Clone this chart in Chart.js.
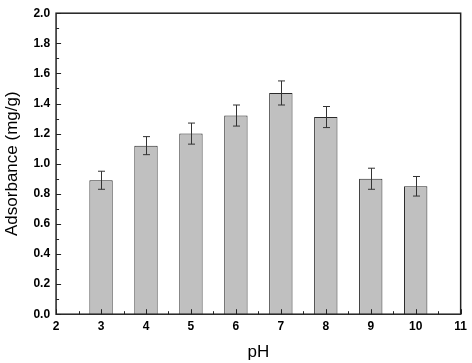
<!DOCTYPE html>
<html>
<head>
<meta charset="utf-8">
<script src="https://cdn.jsdelivr.net/npm/chart.js@4"></script>
<style>
  body { margin: 0; background: #fff; }
  #wrap { width: 472px; height: 363px; }
</style>
</head>
<body>
<div id="wrap"><canvas id="phChart" width="472" height="363"></canvas></div>
<script>
const phValues = [3, 4, 5, 6, 7, 8, 9, 10];
const adsorbance = [0.89, 1.12, 1.20, 1.32, 1.47, 1.31, 0.90, 0.85];
const errors = [0.06, 0.06, 0.07, 0.07, 0.08, 0.07, 0.07, 0.065];

// frame, inward ticks and error bars
const extrasPlugin = {
    id: 'extras',
    afterDatasetsDraw(chart) {
        const ctx = chart.ctx;
        const x = chart.scales.x, y = chart.scales.y;
        const a = chart.chartArea;
        ctx.save();
        ctx.strokeStyle = '#333';
        ctx.lineWidth = 1;
        // error bars
        phValues.forEach((p, i) => {
            const px = Math.round(x.getPixelForValue(p)) + 0.5;
            const top = y.getPixelForValue(adsorbance[i] + errors[i]);
            const bot = y.getPixelForValue(adsorbance[i] - errors[i]);
            ctx.beginPath();
            ctx.moveTo(px, top); ctx.lineTo(px, bot);
            ctx.moveTo(px - 3.5, top); ctx.lineTo(px + 3.5, top);
            ctx.moveTo(px - 3.5, bot); ctx.lineTo(px + 3.5, bot);
            ctx.stroke();
        });
        // inward ticks
        ctx.strokeStyle = '#222';
        for (let v = 2; v <= 11.001; v += 0.5) {
            const px = Math.round(x.getPixelForValue(v)) + 0.5;
            const len = Math.abs(v - Math.round(v)) < 0.01 ? 5 : 3;
            ctx.beginPath();
            ctx.moveTo(px, a.bottom); ctx.lineTo(px, a.bottom - len);
            ctx.stroke();
        }
        for (let k = 0; k <= 20; k++) {
            const py = Math.round(y.getPixelForValue(k / 10)) + 0.5;
            const len = k % 2 === 0 ? 5 : 3;
            ctx.beginPath();
            ctx.moveTo(a.left, py); ctx.lineTo(a.left + len, py);
            ctx.stroke();
        }
        // frame
        ctx.lineWidth = 1.5;
        ctx.strokeStyle = '#222';
        ctx.strokeRect(a.left, a.top, a.right - a.left, a.bottom - a.top);
        ctx.restore();
    }
};

new Chart(document.getElementById('phChart').getContext('2d'), {
    type: 'bar',
    data: {
        datasets: [{
            label: 'Adsorbance',
            data: phValues.map((p, i) => ({ x: p, y: adsorbance[i] })),
            backgroundColor: '#c0c0c0',
            borderColor: '#2a2a2a',
            borderWidth: 1,
            barPercentage: 0.52,
            categoryPercentage: 1
        }]
    },
    options: {
        responsive: false,
        animation: false,
        layout: { padding: { top: 12, right: 11, left: 2, bottom: 0 } },
        plugins: {
            legend: { display: false },
            tooltip: { enabled: false }
        },
        scales: {
            x: {
                type: 'linear',
                min: 2,
                max: 11,
                offset: false,
                grid: { display: false, drawTicks: false },
                border: { display: false },
                ticks: {
                    stepSize: 1,
                    padding: 5,
                    color: '#000',
                    font: { family: 'Liberation Sans', size: 12, weight: 'bold' }
                },
                title: {
                    display: true,
                    text: 'pH',
                    color: '#000',
                    font: { family: 'Liberation Sans', size: 17 },
                    padding: { top: 4, bottom: 0 }
                }
            },
            y: {
                min: 0,
                max: 2.0,
                grid: { display: false, drawTicks: false },
                border: { display: false },
                ticks: {
                    stepSize: 0.2,
                    padding: 6,
                    color: '#000',
                    font: { family: 'Liberation Sans', size: 12, weight: 'bold' },
                    callback: v => v.toFixed(1)
                },
                title: {
                    display: true,
                    text: 'Adsorbance (mg/g)',
                    color: '#000',
                    font: { family: 'Liberation Sans', size: 17 },
                    padding: { top: 0, bottom: 5 }
                }
            }
        }
    },
    plugins: [extrasPlugin]
});
</script>
</body>
</html>
